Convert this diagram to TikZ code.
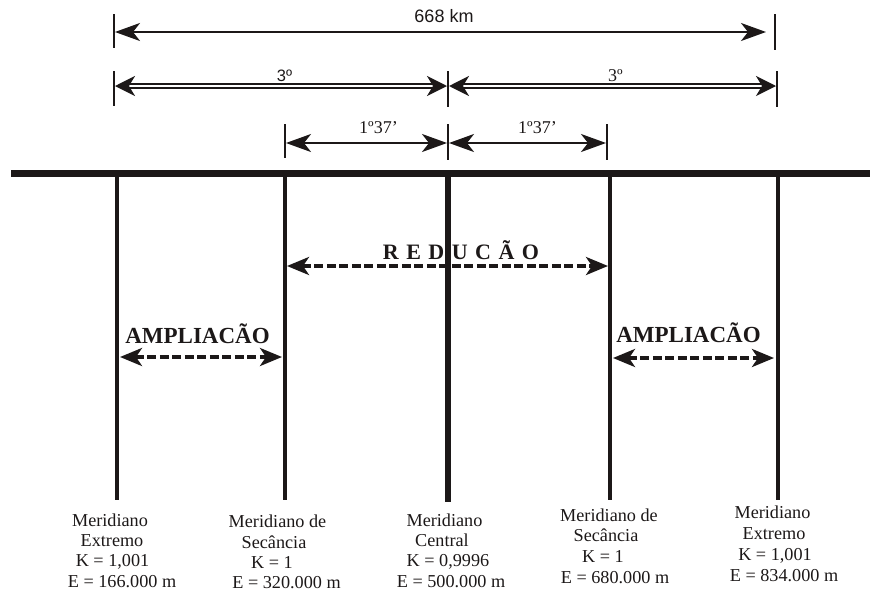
\documentclass[tikz,border=0pt]{standalone}
\usepackage{fontspec}
\setmainfont{Liberation Serif}
\newfontfamily\sansfam{Liberation Sans}
\usetikzlibrary{arrows.meta}
\definecolor{ink}{RGB}{28,24,24}

\begin{document}
\begin{tikzpicture}[x=1pt,y=-1pt,
  every node/.style={inner sep=0pt, outer sep=0pt, anchor=base, text=ink},
  tick/.style={draw=ink, line width=1.4pt},
  meridian/.style={draw=ink, line width=4pt},
  bigtip/.tip={Stealth[length=25pt,width=18pt,inset=7pt]},
  midtip/.tip={Stealth[length=20pt,width=20pt,inset=6pt]},
  dashtip/.tip={Stealth[length=22pt,width=18pt,inset=6pt]},
  dimline/.style={draw=ink, line width=2.2pt, {bigtip}-{bigtip}},
  dimdouble/.style={draw=ink, double=white, line width=2pt, double distance=1.7pt, {midtip}-{midtip}},
  scalearrow/.style={draw=ink, line width=3.5pt, dash pattern=on 9pt off 3.5pt, {dashtip}-{dashtip}},
  lbl/.style={font=\fontsize{18.2}{20}\selectfont},
  angle/.style={font=\fontsize{18}{20}\selectfont},
  zone/.style={font=\fontsize{23}{26}\selectfont\bfseries},
]
\useasboundingbox (0,0) rectangle (870,592);

% ---- dimension ticks ----
\draw[tick] (114,14) -- (114,48);
\draw[tick] (775,14) -- (775,50);
\draw[tick] (114,71) -- (114,106);
\draw[tick] (448,71) -- (448,107);
\draw[tick] (777,71) -- (777,107);
\draw[tick] (285,124) -- (285,158);
\draw[tick] (448,124) -- (448,160);
\draw[tick] (607,124) -- (607,160);

% ---- dimension arrows ----
\coordinate (k1) at (115,32);
\coordinate (k2) at (766,32);
\draw[dimline] (k1) -- (k2);
\node[font=\sansfam\fontsize{18}{20}\selectfont] (km) at (444,22) {668 km};

\coordinate (g1) at (115,86);
\coordinate (g2) at (447,86);
\coordinate (g3) at (449,86);
\coordinate (g4) at (776,86);
\draw[dimdouble] (g1) -- (g2);
\draw[dimdouble] (g3) -- (g4);
\node[font=\sansfam\fontsize{16.5}{18}\selectfont] (gl) at (284.5,81) {3º};
\node[angle] (gr) at (615.5,81) {3º};

\coordinate (s1) at (286,143);
\coordinate (s2) at (447,143);
\coordinate (s3) at (449,143);
\coordinate (s4) at (606,143);
\draw[dimline] (s1) -- (s2);
\draw[dimline] (s3) -- (s4);
\node[angle] (sl) at (378.5,133) {1º37’};
\node[angle] (sr) at (537.5,133) {1º37’};

% ---- equator bar and meridians ----
\draw[draw=ink, line width=7pt] (11,173.5) -- (870,173.5);
\draw[meridian] (117,173) -- (117,500);
\draw[meridian] (285,173) -- (285,500);
\draw[meridian, line width=6.5pt] (448,173) -- (448,502);
\draw[meridian] (610,173) -- (610,500);
\draw[meridian] (778,173) -- (778,500);

% ---- scale zones ----
\coordinate (r1) at (287,266);
\coordinate (r2) at (608,266);
\draw[scalearrow] (r1) -- (r2);
\node[font=\fontsize{22}{24}\selectfont\bfseries] (red) at (461,259)
  {R\kern7.5pt E\kern7.5pt D\kern7.5pt U\kern7.5pt C\kern7.5pt Ã\kern7.5pt O};

\coordinate (a1) at (120,357);
\coordinate (a2) at (282,357);
\draw[scalearrow] (a1) -- (a2);
\node[zone] (ampl) at (197.5,343) {AMPLIACÃO};

\coordinate (b1) at (613,358);
\coordinate (b2) at (774,358);
\draw[scalearrow] (b1) -- (b2);
\node[zone] (ampr) at (688.5,342) {AMPLIACÃO};

% ---- meridian labels ----
\node[lbl] (e1a) at (110,526) {Meridiano};
\node[lbl] (e1b) at (112,546) {Extremo};
\node[lbl] (e1c) at (112.5,566.5) {K = 1,001};
\node[lbl] (e1d) at (122,587) {E = 166.000 m};

\node[lbl] (s1a) at (277.5,527.5) {Meridiano de};
\node[lbl] (s1b) at (274,548) {Secância};
\node[lbl] (s1c) at (272,568) {K = 1};
\node[lbl] (s1d) at (286.5,588.5) {E = 320.000 m};

\node[lbl] (c1a) at (444.5,526) {Meridiano};
\node[lbl] (c1b) at (442,546) {Central};
\node[lbl] (c1c) at (448,566) {K = 0,9996};
\node[lbl] (c1d) at (451,587) {E = 500.000 m};

\node[lbl] (s2a) at (609,521) {Meridiano de};
\node[lbl] (s2b) at (606,541.5) {Secância};
\node[lbl] (s2c) at (603,562) {K = 1};
\node[lbl] (s2d) at (615,583) {E = 680.000 m};

\node[lbl] (e2a) at (772.5,518) {Meridiano};
\node[lbl] (e2b) at (774,539) {Extremo};
\node[lbl] (e2c) at (775,560) {K = 1,001};
\node[lbl] (e2d) at (784,581) {E = 834.000 m};
\end{tikzpicture}
\end{document}
